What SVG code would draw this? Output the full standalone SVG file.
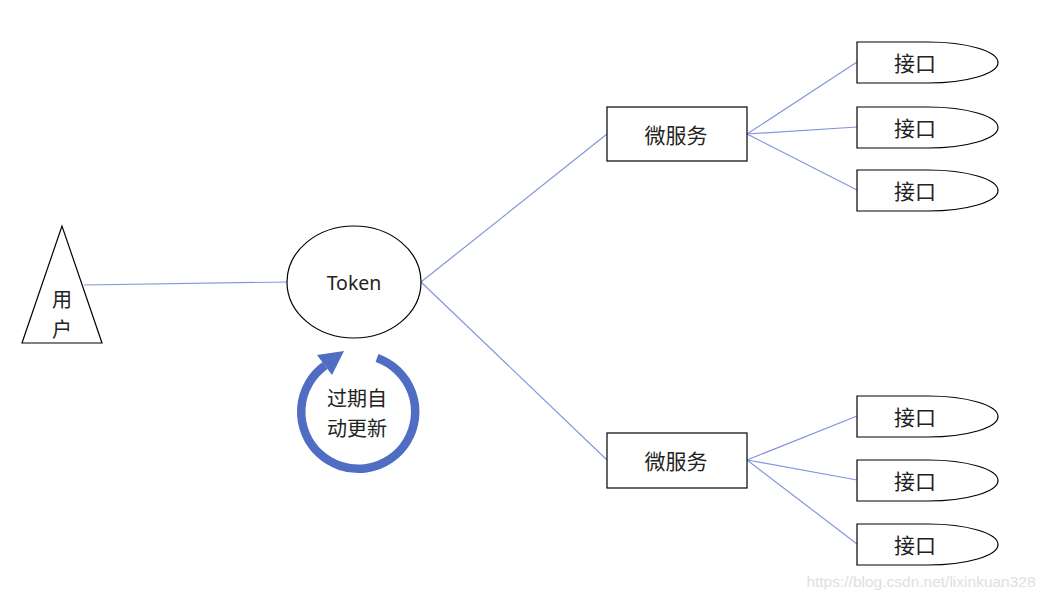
<svg xmlns="http://www.w3.org/2000/svg" width="1046" height="598" viewBox="0 0 1046 598">
<style>
.shape{fill:#fff;stroke:#000;stroke-width:1.2}
.lbl{font-family:"Noto Sans CJK SC","Noto Sans",sans-serif;font-size:21px;fill:#222;text-anchor:middle;dominant-baseline:central}
.ml{font-size:20px}
.conn{stroke:#8396dc;stroke-width:1.2;fill:none}
</style>
<rect width="1046" height="598" fill="#fff"/>
<g id="connectors">
<line class="conn" x1="84" y1="285" x2="288" y2="282"/>
<line class="conn" x1="421" y1="282" x2="607" y2="134"/>
<line class="conn" x1="421" y1="282" x2="607" y2="460"/>
<line class="conn" x1="747" y1="134" x2="857" y2="62"/>
<line class="conn" x1="747" y1="134" x2="857" y2="127"/>
<line class="conn" x1="747" y1="134" x2="857" y2="190"/>
<line class="conn" x1="747" y1="460" x2="857" y2="416"/>
<line class="conn" x1="747" y1="460" x2="857" y2="480"/>
<line class="conn" x1="747" y1="460" x2="857" y2="544"/>
</g>
<g id="user">
<polygon class="shape" points="62,226 22,343 102,343"/>
<text class="lbl ml" x="62" y="298.5">用</text>
<text class="lbl ml" x="62" y="328">户</text>
</g>
<g id="token">
<ellipse class="shape" cx="354" cy="282" rx="67" ry="56"/>
<text class="lbl" x="354" y="282" style="font-family:'Noto Sans',sans-serif;font-size:19.5px">Token</text>
</g>
<g id="refresh">
<path d="M377,358 A57,57 0 1 1 325,365.5" fill="none" stroke="#4f6dc2" stroke-width="8.5"/>
<polygon points="344,351 332,375 317,355" fill="#4f6dc2"/>
<text class="lbl ml" x="357" y="397.5">过期自</text>
<text class="lbl ml" x="357" y="427">动更新</text>
</g>
<g id="ms1">
<rect class="shape" x="607" y="107" width="140" height="54"/>
<text class="lbl" x="676" y="134">微服务</text>
</g>
<g id="ms2">
<rect class="shape" x="607" y="433" width="140" height="55"/>
<text class="lbl" x="676" y="460">微服务</text>
</g>
<g id="api1">
<path class="shape" d="M857,42 H928 A70,20.5 0 0 1 928,83 H857 Z"/>
<text class="lbl" x="915" y="62">接口</text>
</g>
<g id="api2">
<path class="shape" d="M857,107 H928 A70,20.5 0 0 1 928,148 H857 Z"/>
<text class="lbl" x="915" y="127">接口</text>
</g>
<g id="api3">
<path class="shape" d="M857,170 H928 A70,20.5 0 0 1 928,211 H857 Z"/>
<text class="lbl" x="915" y="190">接口</text>
</g>
<g id="api4">
<path class="shape" d="M857,396 H928 A70,20.5 0 0 1 928,437 H857 Z"/>
<text class="lbl" x="915" y="416">接口</text>
</g>
<g id="api5">
<path class="shape" d="M857,460 H928 A70,20.5 0 0 1 928,501 H857 Z"/>
<text class="lbl" x="915" y="480">接口</text>
</g>
<g id="api6">
<path class="shape" d="M857,524 H928 A70,20.5 0 0 1 928,565 H857 Z"/>
<text class="lbl" x="915" y="544">接口</text>
</g>
<text x="921" y="581" style="font-family:'Liberation Sans',Arial,sans-serif;font-size:15.5px;fill:#e0e0e0;text-anchor:middle;dominant-baseline:central">https://blog.csdn.net/lixinkuan328</text>
</svg>
